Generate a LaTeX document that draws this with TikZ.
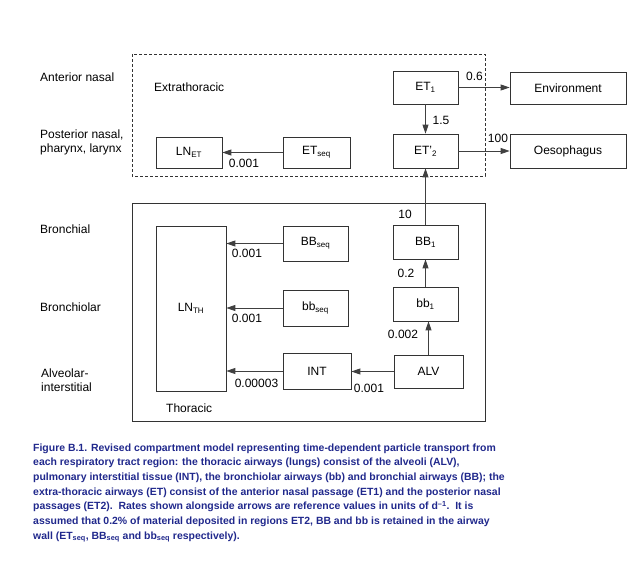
\documentclass[tikz,border=0pt]{standalone}
\usepackage{fontspec}
\setmainfont{Liberation Sans}
\usetikzlibrary{arrows.meta}
\definecolor{captionblue}{RGB}{32,40,140}
\tikzset{
	comp/.style={draw=black!80, line width=0.7pt, inner sep=0pt},
	flow/.style={draw=black!75, line width=0.8pt, -{Triangle[length=9pt,width=6pt]}},
	rate/.style={inner sep=0pt},
	region/.style={anchor=west, align=left, inner sep=0pt},
}
\begin{document}
\begin{tikzpicture}[x=1pt,y=-1pt,font=\fontsize{12}{14}\selectfont]
	\useasboundingbox (0,0) rectangle (644,564);
	% the two regions
	\draw[black!80, line width=0.7pt, dash pattern=on 3pt off 2pt] (132,54) rectangle (485,176);
	\draw[black!80, line width=0.7pt] (132,203) rectangle (485,421);
	\node[region] (extra) at (154,87) {Extrathoracic};
	\node[region] (thor) at (166,408) {Thoracic};

	\node[region] (antnasal) at (40,77) {Anterior nasal};
	\node[region] (postnasal) at (40,142) {Posterior nasal,\\pharynx, larynx};
	\node[region] (bronchial) at (40,229) {Bronchial};
	\node[region] (bronchiolar) at (40,307) {Bronchiolar};
	\node[region] (alvint) at (41,380) {Alveolar-\\interstitial};

	% compartments
	\node[comp, minimum width=65pt, minimum height=33pt] (ETone) at (425.5,87.5) {ET\textsubscript{1}};
	\node[comp, minimum width=116pt, minimum height=32pt] (env) at (568,88) {Environment};
	\node[comp, minimum width=65pt, minimum height=34pt] (ETtwo) at (425.5,151) {ET'\textsubscript{2}};
	\node[comp, minimum width=116pt, minimum height=34pt] (oes) at (568,151) {Oesophagus};
	\node[comp, minimum width=66pt, minimum height=31pt] (LNET) at (189,152.5) {LN\textsubscript{ET}};
	\node[comp, minimum width=67pt, minimum height=31pt] (ETseq) at (316.5,152.5) {ET\textsubscript{seq}};
	\node[comp, minimum width=70pt, minimum height=165pt] (LNTH) at (191,308.5) {LN\textsubscript{TH}};
	\node[comp, minimum width=65pt, minimum height=35pt] (BBseq) at (315.5,243.5) {BB\textsubscript{seq}};
	\node[comp, minimum width=65pt, minimum height=36pt] (bbseq) at (315.5,308) {bb\textsubscript{seq}};
	\node[comp, minimum width=68pt, minimum height=36pt] (INT) at (317,371) {INT};
	\node[comp, minimum width=69pt, minimum height=33pt] (ALV) at (428.5,371.5) {ALV};
	\node[comp, minimum width=65pt, minimum height=34pt] (BBone) at (425.5,242) {BB\textsubscript{1}};
	\node[comp, minimum width=65pt, minimum height=34pt] (bbone) at (425.5,304) {bb\textsubscript{1}};

	% transfers
	\draw[flow] (ETone.east) -- (ETone.east -| env.west);
	\draw[flow] (ETone) -- (ETtwo);
	\draw[flow] (ETtwo) -- (oes);
	\draw[flow] (ETseq) -- (LNET);
	\draw[flow] (BBone) -- (ETtwo);
	\draw[flow] (bbone) -- (BBone);
	\draw[flow] (ALV.north) -- (ALV.north |- bbone.south);
	\draw[flow] (ALV.west) -- (ALV.west -| INT.east);
	\draw[flow] (INT) -- (INT -| LNTH.east);
	\draw[flow] (bbseq) -- (bbseq -| LNTH.east);
	\draw[flow] (BBseq) -- (BBseq -| LNTH.east);

	\node[rate] (rEnv) at (474.5,76) {0.6};
	\node[rate] (rET) at (441,120) {1.5};
	\node[rate] (rOes) at (498,138) {100};
	\node[rate] (rLNET) at (244,163) {0.001};
	\node[rate] (rBBseq) at (247,253) {0.001};
	\node[rate] (rbbseq) at (247,318) {0.001};
	\node[rate] (rINT) at (256.5,383) {0.00003};
	\node[rate] (rALV) at (369,388) {0.001};
	\node[rate] (rBB) at (405,214) {10};
	\node[rate] (rbb) at (406,273) {0.2};
	\node[rate] (rbbone) at (403,334) {0.002};

	% caption
	\node[anchor=base west, align=left, inner sep=0pt, text=captionblue,
		font=\bfseries\fontsize{10.45}{14.7}\selectfont] (caption) at (33,539.2)
		{Figure B.1. Revised compartment model representing time-dependent particle transport from\\
		each respiratory tract region: the thoracic airways (lungs) consist of the alveoli (ALV),\\
		pulmonary interstitial tissue (INT), the bronchiolar airways (bb) and bronchial airways (BB); the\\
		extra-thoracic airways (ET) consist of the anterior nasal passage (ET1) and the posterior nasal\\
		passages (ET2).\ \ Rates shown alongside arrows are reference values in units of d\textsuperscript{--1}.\ \ It is\\
		assumed that 0.2\% of material deposited in regions ET2, BB and bb is retained in the airway\\
		wall (ET\textsubscript{seq}, BB\textsubscript{seq} and bb\textsubscript{seq} respectively).};
\end{tikzpicture}
\end{document}
